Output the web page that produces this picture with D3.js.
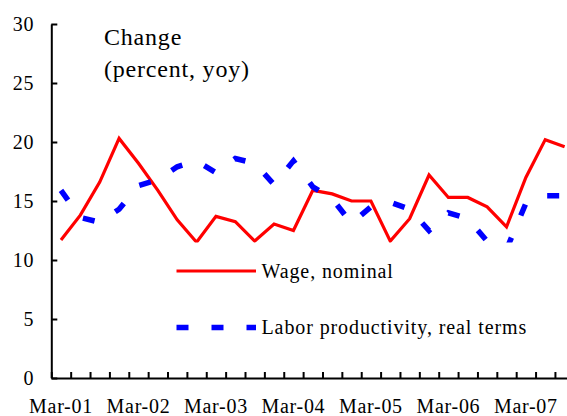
<!DOCTYPE html>
<html>
<head>
<meta charset="utf-8">
<script src="https://cdn.jsdelivr.net/npm/d3@7"></script>
<style>
  body { margin: 0; background: #fff; }
  svg { display: block; font-family: 'Liberation Serif', 'Times New Roman', serif; }
</style>
</head>
<body>
<div id="chart"></div>
<script>
// quarterly, Mar-01 .. Sep-07
const quarters = [
  'Mar-01', 'Jun-01', 'Sep-01', 'Dec-01',
  'Mar-02', 'Jun-02', 'Sep-02', 'Dec-02',
  'Mar-03', 'Jun-03', 'Sep-03', 'Dec-03',
  'Mar-04', 'Jun-04', 'Sep-04', 'Dec-04',
  'Mar-05', 'Jun-05', 'Sep-05', 'Dec-05',
  'Mar-06', 'Jun-06', 'Sep-06', 'Dec-06',
  'Mar-07', 'Jun-07', 'Sep-07',
];
const wageNominal = [
  11.7, 13.8, 16.6, 20.3, 18.2, 15.9, 13.4, 11.5, 13.7, 13.25,
  11.6, 13.05, 12.5, 15.9, 15.6, 15.0, 15.0, 11.6, 13.5, 17.2,
  15.3, 15.3, 14.5, 12.8, 17.0, 20.2, 19.6,
];
const laborProductivity = [
  15.9, 13.6, 13.2, 14.3, 16.3, 16.8, 17.9, 18.4, 17.4, 18.6,
  18.2, 16.4, 18.4, 16.2, 15.2, 13.1, 14.5, 14.9, 14.3, 12.5,
  14.0, 13.5, 11.6, 10.9, 14.8, 15.45, 15.45,
];
const yTicks = [0, 5, 10, 15, 20, 25, 30];
const xLabels = quarters.filter((q) => q.startsWith('Mar'));

const width = 567;
const height = 416;

const svg = d3.select('#chart').append('svg')
  .attr('width', width)
  .attr('height', height);

// band for categories (chart is cut off on the right, as in the original)
const x = d3.scaleBand()
  .domain(quarters)
  .range([51.3, 574.3]);
const xIdx = d3.scaleLinear()
  .domain([0, quarters.length])
  .range(x.range());
const y = d3.scaleLinear()
  .domain([0, 30])
  .range([378, 24]);

const cx = (i) => x(quarters[i]) + x.bandwidth() / 2;

// series
const line = d3.line()
  .x((d, i) => cx(i))
  .y((d) => y(d));

svg.append('path')
  .datum(wageNominal)
  .attr('fill', 'none')
  .attr('stroke', '#ff0000')
  .attr('stroke-width', 3.2)
  .attr('stroke-linejoin', 'miter')
  .attr('d', line);

svg.append('path')
  .datum(laborProductivity)
  .attr('fill', 'none')
  .attr('stroke', '#0000ff')
  .attr('stroke-width', 5.5)
  .attr('stroke-dasharray', '12,24')
  .attr('d', line);

// legend box hides the lines under it
svg.append('rect')
  .attr('x', 160)
  .attr('y', 242.5)
  .attr('width', 385)
  .attr('height', 108)
  .attr('fill', '#fff');

const legend = [
  { name: 'Wage, nominal', color: '#ff0000', w: 3.2, dash: null, y: 271 },
  { name: 'Labor productivity, real terms', color: '#0000ff', w: 5.5, dash: '12,23', y: 327.5 },
];
legend.forEach((d) => {
  svg.append('line')
    .attr('x1', 176.5).attr('x2', 256)
    .attr('y1', d.y).attr('y2', d.y)
    .attr('stroke', d.color)
    .attr('stroke-width', d.w)
    .attr('stroke-dasharray', d.dash);
  svg.append('text')
    .attr('x', 261.5)
    .attr('y', d.y + 6.5)
    .attr('font-size', 20)
    .attr('letter-spacing', 0.9)
    .attr('fill', '#000')
    .text(d.name);
});

// y axis
const yAxis = svg.append('g')
  .attr('transform', 'translate(51.3,0)')
  .call(d3.axisLeft(y).tickValues(yTicks).tickSize(-6).tickSizeOuter(0).tickPadding(17));
yAxis.select('.domain').attr('stroke', '#000').attr('stroke-width', 2);
yAxis.selectAll('.tick line').attr('stroke', '#000').attr('stroke-width', 2);
yAxis.selectAll('.tick text')
  .attr('font-size', 20)
  .attr('font-family', 'Liberation Serif, serif')
  .attr('letter-spacing', 0.8)
  .attr('fill', '#000');

// x axis: tick marks between categories
const xAxis = svg.append('g')
  .attr('transform', 'translate(0,378)')
  .call(d3.axisBottom(xIdx).tickValues(d3.range(0, quarters.length + 1))
    .tickSize(-6).tickSizeOuter(0).tickFormat(''));
xAxis.select('.domain').attr('stroke', '#000').attr('stroke-width', 2);
xAxis.selectAll('.tick line').attr('stroke', '#000').attr('stroke-width', 2);

const xLab = svg.append('g')
  .attr('transform', 'translate(0,378)')
  .call(d3.axisBottom(x).tickValues(xLabels).tickSize(0).tickPadding(21));
xLab.select('.domain').remove();
xLab.selectAll('.tick text')
  .attr('font-size', 20)
  .attr('font-family', 'Liberation Serif, serif')
  .attr('letter-spacing', 0.7)
  .attr('fill', '#000');

// title
const title = svg.append('text')
  .attr('x', 104)
  .attr('font-size', 24)
  .attr('letter-spacing', 0.8)
  .attr('fill', '#000');
title.append('tspan').attr('x', 104).attr('y', 45).text('Change');
title.append('tspan').attr('x', 104).attr('y', 77).text('(percent, yoy)');
</script>
</body>
</html>
